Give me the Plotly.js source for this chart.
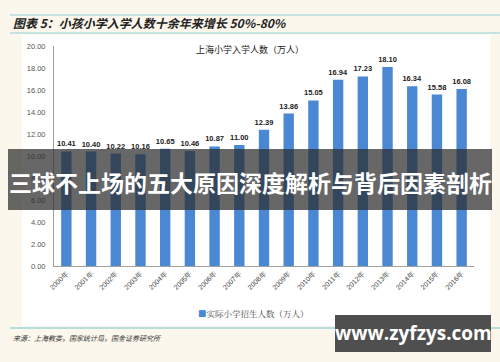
<!DOCTYPE html>
<html><head><meta charset="utf-8">
<script src="https://cdn.plot.ly/plotly-3.0.1.min.js"></script>
<style>html,body{margin:0;padding:0;background:#fcf7ec;}#chart{width:500px;height:362px;}</style>
</head><body><div id="chart"></div>
<script>
const years = ["2000年","2001年","2002年","2003年","2004年","2005年","2006年","2007年","2008年","2009年","2010年","2011年","2012年","2013年","2014年","2015年","2016年"];
const enrolment = [10.41,10.40,10.22,10.16,10.65,10.46,10.87,11.00,12.39,13.86,15.05,16.94,17.23,18.10,16.34,15.58,16.08];
const seriesName = "实际小学招生人数（万人）";
const chartTitle = "上海小学入学人数（万人）";
const headerTitle = "图表 5：小孩小学入学人数十余年来增长 50%-80%";
const sourceText = "来源：上海教委，国家统计局，国金证券研究所";
const bannerText = "三球不上场的五大原因深度解析与背后因素剖析";
const watermarkText = "www.zyfzys.com";
const barColor = "#4a88d4";

// pixel -> paper helpers (plot area 54..474 x, 46..266 y)
const L=54, R=474, T=46, B=266;
const px = x => (x-L)/(R-L);
const py = y => (B-y)/(B-T);

const trace = {
  type:"bar", x:years, y:enrolment, name:seriesName,
  marker:{color:barColor},
  texttemplate:"%{y:.2f}", textposition:"outside", cliponaxis:false, constraintext:"none",
  textfont:{family:"Liberation Sans, Arial, sans-serif", size:7.5, color:"#222", weight:"bold"},
  hoverinfo:"skip", showlegend:false
};

const layout = {
  width:500, height:362,
  margin:{l:L, r:500-R, t:T, b:362-B},
  paper_bgcolor:"#fcf7ec", plot_bgcolor:"#ffffff",
  bargap:0.58,
  showlegend:false,
  title:{text:headerTitle, x:13/500, xanchor:"left", xref:"container", y:1-24/362, yref:"container", yanchor:"middle",
    font:{family:"Noto Sans CJK SC, sans-serif", size:12, color:"#222", weight:"bold", style:"italic"}},
  xaxis:{type:"category", showline:true, linecolor:"#a0a0a0", linewidth:1, ticks:"", tickangle:-45,
    tickfont:{family:"Liberation Sans, Arial, sans-serif", size:7, color:"#444"}, showgrid:false, fixedrange:true},
  yaxis:{range:[0,20], dtick:2, tickformat:".2f", showline:true, linecolor:"#a0a0a0", linewidth:1, ticks:"",
    showgrid:false, zeroline:false, ticklabelstandoff:6,
    tickfont:{family:"Liberation Sans, Arial, sans-serif", size:7.5, color:"#555"}, fixedrange:true},
  shapes:[
    {type:"rect", xref:"paper", yref:"paper", x0:px(22), x1:px(490), y0:py(35), y1:py(326), fillcolor:"#ffffff", line:{width:0}, layer:"below"},
    {type:"line", xref:"paper", yref:"paper", x0:px(10), x1:px(500), y0:py(15), y1:py(15), line:{color:"#8fcfd6", width:1.2}},
    {type:"line", xref:"paper", yref:"paper", x0:px(10), x1:px(500), y0:py(33), y1:py(33), line:{color:"#8fcfd6", width:1.2}},
    {type:"line", xref:"paper", yref:"paper", x0:px(10), x1:px(500), y0:py(328), y1:py(328), line:{color:"#9fd6da", width:1.5}},
    {type:"rect", xref:"paper", yref:"paper", x0:px(8), x1:px(492), y0:py(149), y1:py(210), fillcolor:"rgba(45,45,45,0.72)", line:{width:0}, layer:"above"},
    {type:"rect", xref:"paper", yref:"paper", x0:px(335), x1:px(491), y0:py(315), y1:py(352), fillcolor:"#4f4f4f", line:{width:0}, layer:"above"}
  ],
  annotations:[
    {text:chartTitle, xref:"paper", yref:"paper", x:px(250), y:py(49), xanchor:"center", yanchor:"middle", showarrow:false,
      font:{family:"Noto Sans CJK SC, sans-serif", size:9, color:"#222"}},
    {text:'<span style="color:'+barColor+'">■</span>'+seriesName, xref:"paper", yref:"paper", x:px(253), y:py(313), xanchor:"center", yanchor:"middle", showarrow:false,
      font:{family:"Noto Serif CJK SC, DejaVu Serif, serif", size:8.5, color:"#444"}},
    {text:sourceText, xref:"paper", yref:"paper", x:px(11), y:py(338), xanchor:"left", yanchor:"middle", showarrow:false,
      font:{family:"Noto Sans CJK SC, sans-serif", size:7, color:"#333", style:"italic"}},
    {text:bannerText, xref:"paper", yref:"paper", x:px(250), y:py(182), xanchor:"center", yanchor:"middle", showarrow:false,
      font:{family:"Noto Sans CJK SC, sans-serif", size:23, color:"#ffffff", weight:"bold"}},
    {text:watermarkText, xref:"paper", yref:"paper", x:px(413), y:py(333), xanchor:"center", yanchor:"middle", showarrow:false,
      font:{family:"Open Sans, DejaVu Sans, sans-serif", size:19, color:"#ffffff", weight:"bold"}}
  ]
};
Plotly.newPlot("chart",[trace],layout,{staticPlot:true, displayModeBar:false});
</script></body></html>
